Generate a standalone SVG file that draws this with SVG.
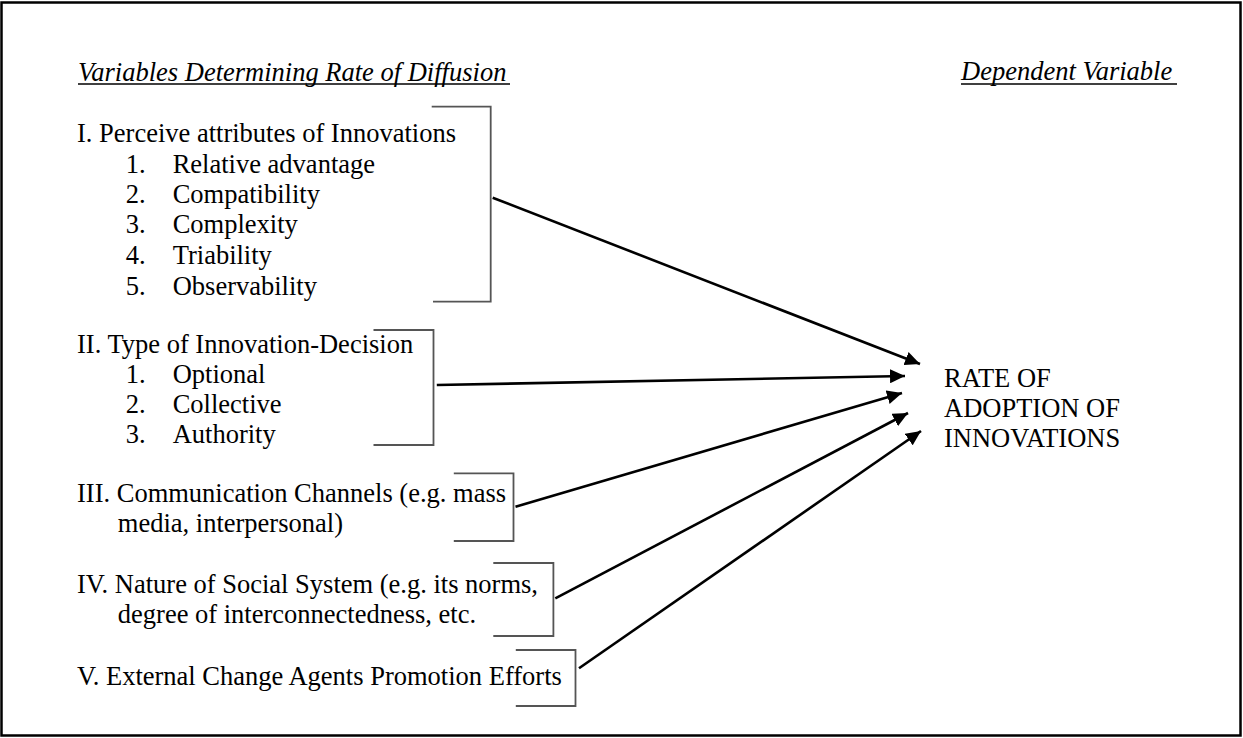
<svg xmlns="http://www.w3.org/2000/svg" width="1243" height="738" viewBox="0 0 1243 738">
<style>
.t{font-family:"Liberation Serif","Times New Roman",serif;font-size:26.5px;fill:#000}
.it{font-style:italic}
.ul{stroke:#000;stroke-width:1.6}
.br{fill:none;stroke:#555;stroke-width:1.8}
.ar{fill:none;stroke:#000;stroke-width:2.6}
</style>
<defs>
<marker id="ah" markerUnits="userSpaceOnUse" markerWidth="16" markerHeight="14" refX="15" refY="7" orient="auto">
<path d="M0,0 L15,7 L0,14 z" fill="#000"/>
</marker>
</defs>
<rect x="1.5" y="2.5" width="1239" height="733" fill="#fff" stroke="#000" stroke-width="2.5"/>
<g id="header-left">
<text class="t it" x="78" y="80.5">Variables Determining Rate of Diffusion</text>
<line class="ul" x1="78" y1="84" x2="510" y2="84"/>
</g>
<g id="header-right">
<text class="t it" x="961" y="80">Dependent Variable</text>
<line class="ul" x1="961" y1="84" x2="1177" y2="84"/>
</g>
<g id="node-I">
<text class="t" x="77" y="141.7">I. Perceive attributes of Innovations</text>
<text class="t" x="125.7" y="172.7">1.</text><text class="t" x="172.7" y="172.7">Relative advantage</text>
<text class="t" x="125.7" y="203">2.</text><text class="t" x="172.7" y="203">Compatibility</text>
<text class="t" x="125.7" y="233.3">3.</text><text class="t" x="172.7" y="233.3">Complexity</text>
<text class="t" x="125.7" y="263.5">4.</text><text class="t" x="172.7" y="263.5">Triability</text>
<text class="t" x="125.7" y="294.5">5.</text><text class="t" x="172.7" y="294.5">Observability</text>
<path class="br" d="M431.7,106.7 H490.7 V301.7 H433"/>
</g>
<g id="node-II">
<text class="t" x="77" y="353.3">II. Type of Innovation-Decision</text>
<text class="t" x="125.7" y="382.7">1.</text><text class="t" x="172.7" y="382.7">Optional</text>
<text class="t" x="125.7" y="413.3">2.</text><text class="t" x="172.7" y="413.3">Collective</text>
<text class="t" x="125.7" y="443.3">3.</text><text class="t" x="172.7" y="443.3">Authority</text>
<path class="br" d="M373.5,330 H433.5 V445 H373.5"/>
</g>
<g id="node-III">
<text class="t" x="77" y="501.7">III. Communication Channels (e.g. mass</text>
<text class="t" x="117.8" y="531.7">media, interpersonal)</text>
<path class="br" d="M453.8,473.3 H513.5 V541 H453.8"/>
</g>
<g id="node-IV">
<text class="t" x="77" y="593.3">IV. Nature of Social System (e.g. its norms,</text>
<text class="t" x="117.8" y="623.3">degree of interconnectedness, etc.</text>
<path class="br" d="M493.3,563 H553.4 V636 H493.3"/>
</g>
<g id="node-V">
<text class="t" x="77" y="685">V. External Change Agents Promotion Efforts</text>
<path class="br" d="M515.8,650 H575.5 V706 H515.8"/>
</g>
<g id="node-rate">
<text class="t" x="944" y="387">RATE OF</text>
<text class="t" x="944" y="417">ADOPTION OF</text>
<text class="t" x="944" y="447">INNOVATIONS</text>
</g>
<g id="connectors">
<line class="ar" x1="492.7" y1="197.7" x2="920" y2="364" marker-end="url(#ah)"/>
<line class="ar" x1="436.8" y1="385" x2="905" y2="376" marker-end="url(#ah)"/>
<line class="ar" x1="515.5" y1="506.7" x2="902" y2="393" marker-end="url(#ah)"/>
<line class="ar" x1="555.3" y1="598.3" x2="908" y2="413" marker-end="url(#ah)"/>
<line class="ar" x1="579" y1="668.3" x2="921" y2="431" marker-end="url(#ah)"/>
</g>
</svg>
